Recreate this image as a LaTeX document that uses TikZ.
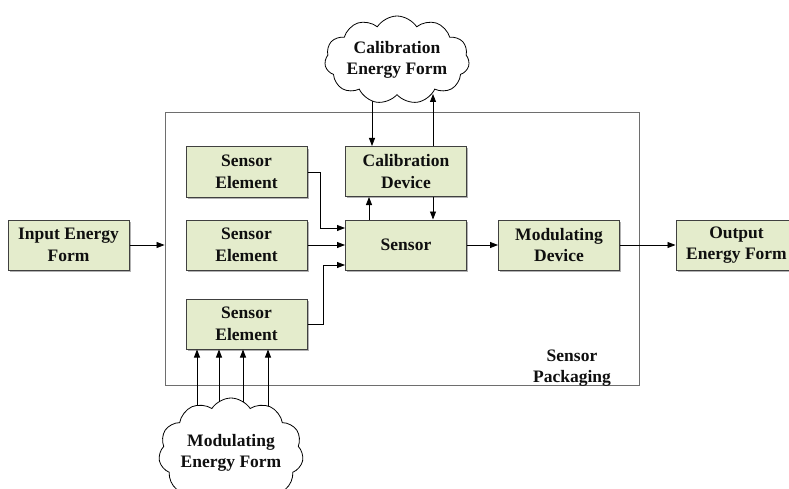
\documentclass[tikz,border=0pt]{standalone}
\usepackage{fontspec}
\setmainfont{Liberation Serif}
\usetikzlibrary{arrows.meta,shapes.symbols,shadows}

\definecolor{boxfill}{RGB}{228,236,204}
\definecolor{boxline}{RGB}{64,64,64}
\definecolor{packline}{RGB}{110,110,110}
\definecolor{ink}{RGB}{15,15,15}

\begin{document}
\begin{tikzpicture}[x=1pt,y=-1pt,
  lbl/.style={text=ink, align=center, inner sep=0pt, font=\fontsize{17.5}{21.5}\selectfont\bfseries},
  block/.style={lbl, draw=boxline, line width=1pt, fill=boxfill,
    minimum width=121pt, minimum height=50pt,
    drop shadow={shadow xshift=1.6pt, shadow yshift=-1.6pt, fill=black, opacity=0.3}},
  conn/.style={draw=black, line width=0.8pt},
  arr/.style={conn, -{Triangle[length=8pt,width=6pt]}},
  puff/.style={lbl, cloud, draw=black, fill=white, line width=0.8pt,
    cloud puffs=11, cloud puff arc=115, cloud ignores aspect}
]
\useasboundingbox (0,0) rectangle (789,489);

% sensor packaging frame
\node[draw=packline, line width=0.9pt, minimum width=474pt, minimum height=273pt, inner sep=0pt]
  (pack) at (402,248.5) {};
\node[lbl] (packlbl) at (572,368) {Sensor\\Packaging};

% blocks
\node[block] (inp) at (68.5,245) {Input Energy\\Form};
\node[block] (se1) at (246.5,172) {Sensor\\Element};
\node[block] (se2) at (246.5,245) {Sensor\\Element};
\node[block] (se3) at (246.5,324) {Sensor\\Element};
\node[block] (cal) at (406,171.5) {Calibration\\Device};
\node[block] (sen) at (406,245) {Sensor};
\node[block] (mod) at (559,245) {Modulating\\Device};
\node[block] (out) at (736.5,245) {Output\\Energy Form};

% main signal path
\draw[arr] (inp.east) -- (inp.east -| pack.west);
\draw[arr] (sen.east) -- (mod.west);
\draw[arr] (mod.east) -- (out.west);

% sensor elements into the sensor
\draw[arr] (se1.east) -- ++(13,0) |- ([yshift=17pt]sen.west);
\draw[arr] (se2.east) -- (sen.west);
\draw[arr] (se3.east) -- ++(16,0) |- ([yshift=-20pt]sen.west);

% sensor <-> calibration device
\draw[arr] ([xshift=-37pt]sen.north) -- ([xshift=-37pt]cal.south);
\draw[arr] ([xshift=27pt]cal.south) -- ([xshift=27pt]sen.north);

% calibration energy form
\coordinate (calc) at (397,60);
\coordinate (cin) at ([xshift=-34pt]cal.north);
\coordinate (cout) at ([xshift=27pt]cal.north);
\coordinate (ctip) at (433,94);
\draw[arr] (calc -| cin) -- (cin);
\node[puff, minimum width=117pt, minimum height=88pt] (calcloud) at (calc) {Calibration\\Energy Form};
\draw[arr] (cout) -- (ctip);

% modulating energy form
\coordinate (cloudc) at (231,453);
\foreach \dx [count=\i] in {-49.5,-27.5,-3.5,21.5} {
  \coordinate (m\i) at ([xshift=\dx pt]se3.south);
  \draw[arr] (cloudc -| m\i) -- (m\i);
}
\node[puff, minimum width=134pt, minimum height=110pt] (modcloud) at (cloudc) {Modulating\\Energy Form};
\end{tikzpicture}
\end{document}
